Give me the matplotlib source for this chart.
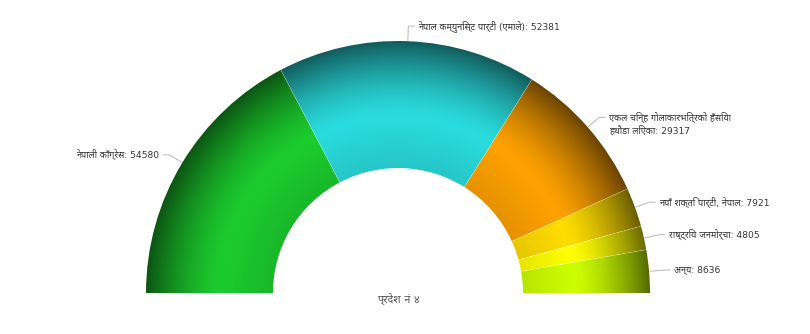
import numpy as np
import matplotlib
matplotlib.use("Agg")
import matplotlib.pyplot as plt
from matplotlib import font_manager
from matplotlib.ft2font import FT2Font
from matplotlib.patches import Wedge
from matplotlib.colors import to_rgb

parties = [
    "नेपाली काँग्रेस",
    "नेपाल कम्युनिस्ट पार्टी (एमाले)",
    "एकल चिन्ह गोलाकारभित्रको हँसिया\nहथौडा लिएका",
    "नयाँ शक्ति पार्टी, नेपाल",
    "राष्ट्रिय जनमोर्चा",
    "अन्य",
]
votes = [54580, 52381, 29317, 7921, 4805, 8636]
colors = ["#1ccc2e", "#2adcde", "#ffa200", "#ffdd00", "#ffff00", "#ccff00"]
title = "प्रदेश नं ४"


def find_deva_fonts():
    found = []
    for f in font_manager.fontManager.ttflist:
        try:
            cmap = FT2Font(f.fname).get_charmap()
        except Exception:
            continue
        if 0x0915 in cmap and f.name not in found:
            found.append(f.name)
    return found


deva = find_deva_fonts()
prefer = ["Noto Sans Devanagari", "Mukta", "Hind", "Lohit Devanagari"]
pick = [p for p in prefer if p in deva]
if pick:
    deva_font = pick[0]
else:
    others = [d for d in deva if "Unifont" not in d]
    deva_font = others[0] if others else "DejaVu Sans"
family = ["DejaVu Sans", deva_font]

fig = plt.figure(figsize=(8.1, 3.34), dpi=100)
ax = fig.add_axes([0, 0, 1, 1])
ax.set_xlim(0, 810)
ax.set_ylim(0, 334)
ax.axis("off")

cx, cy = 398, 41
R, r_in = 252, 125

# radial shading: bright band in the ring, darker to the outer rim
n = 500
xs = np.linspace(cx - R, cx + R, n)
ys = np.linspace(cy, cy + R, n // 2)
X, Y = np.meshgrid(xs, ys)
t = (np.hypot(X - cx, Y - cy) - r_in) / (R - r_in)
t = np.clip(t, 0, 1)
peak = 0.4
shade = np.where(t < peak, 0.9 + 0.1 * t / peak,
                 1 - 0.58 * ((t - peak) / (1 - peak)) ** 1.5)

total = sum(votes)
cum = np.concatenate([[0], np.cumsum(votes)])
for i, (v, c) in enumerate(zip(votes, colors)):
    a_start = 180 - cum[i] * 180 / total
    a_end = 180 - cum[i + 1] * 180 / total
    w = Wedge((cx, cy), R, a_end, a_start, width=R - r_in,
              facecolor="none", edgecolor="white", lw=0.4)
    ax.add_patch(w)
    img = shade[..., None] * np.array(to_rgb(c))
    im = ax.imshow(img, extent=(cx - R, cx + R, cy, cy + R), origin="lower",
                   aspect="auto", interpolation="bilinear", zorder=1)
    im.set_clip_path(w)

    # connector + data label
    mid = np.radians((a_start + a_end) / 2)
    ca, sa = np.cos(mid), np.sin(mid)
    ex, ey = cx + (R + 1) * ca, cy + (R + 1) * sa
    bx, by = cx + (R + 15) * ca, cy + (R + 15) * sa
    side = 1 if ca >= 0 else -1
    ax.plot([ex, bx, bx + 6 * side], [ey, by, by], color="#c0c0c0", lw=0.8,
            zorder=2)
    nlines = parties[i].count("\n") + 1
    ax.text(bx + 10 * side, by - (nlines - 1) * 6, f"{parties[i]}: {v}",
            ha="left" if side > 0 else "right", va="center",
            fontsize=6.6, color="#333333", family=family, linespacing=1.3)

ax.text(cx, 334 - 300, title, ha="center", va="center", fontsize=7.8,
        fontweight="bold", color="#555555", family=family)

fig.savefig("out.png", dpi=100)
